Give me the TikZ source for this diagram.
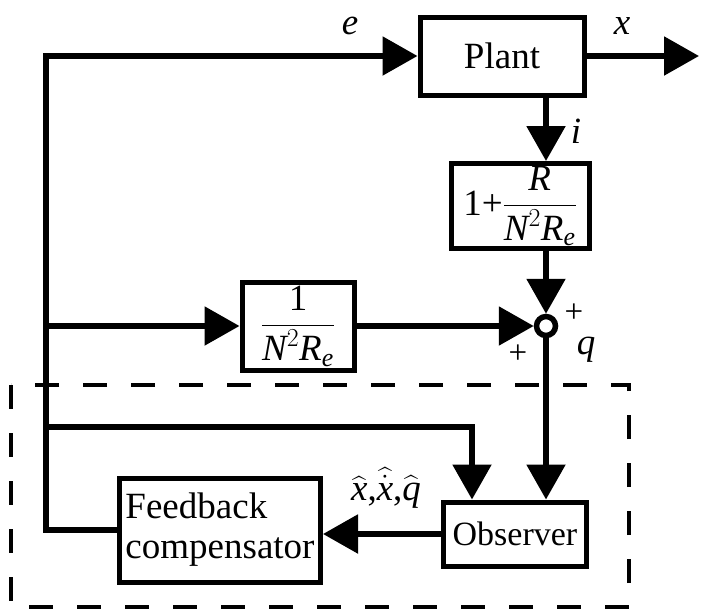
\RequirePackage{fix-cm}
\documentclass[tikz,border=0pt]{standalone}
\usepackage{amsmath}
\usepackage{fontspec}
\setmainfont{Liberation Serif}
\usepackage{tikz}
\usetikzlibrary{arrows.meta, positioning, calc}
\newcommand{\vi}[1]{\textit{#1}}
\tikzset{
  blk/.style={rectangle, draw, line width=5pt, align=center, inner sep=2pt},
  sumnode/.style={circle, draw, line width=5.5pt, inner sep=0pt, minimum size=19pt},
  arr/.style={-{Triangle[length=35pt, width=38pt]}, line width=5.5pt},
  dashbox/.style={line width=3.5pt, dash pattern=on 24pt off 24pt},
  lbl/.style={inner sep=0pt},
  pluslbl/.style={inner sep=0pt, font=\fontsize{33}{35}\selectfont},
}
\begin{document}
\begin{tikzpicture}[x=1pt, y=-1pt, font=\fontsize{37}{40}\selectfont]
\useasboundingbox (0,0) rectangle (702,616);

% ── Blocks ──
\node[blk, minimum width=164pt, minimum height=78pt] (plant) at (502,56) {Plant};
\node[blk, minimum width=138pt, minimum height=85pt] (corr) at (520,206)
  {$\text{1+}\dfrac{\vi{R}}{\vi{N}^2\vi{R}_{\vi{e}}}$};
\node[blk, minimum width=112pt, minimum height=88pt] (gain) at (298,326)
  {$\dfrac{\text{1}}{\vi{N}^2\vi{R}_{\vi{e}}}$};
\node[sumnode] (sum) at (546,326) {};
\node[blk, minimum width=143pt, minimum height=64pt, font=\fontsize{34}{36}\selectfont] (obs) at (515,534) {Observer};
\node[blk, minimum width=201pt, minimum height=104pt, align=left, inner sep=1pt] (fb) at (220,530) {Feedback\\compensator};

% ── Corners ──
\coordinate (topl) at (46,56);
\coordinate (out) at (699,56);
\coordinate (obsin) at (472,427);

% ── Arrows ──
\draw[arr] (fb.west) -| (topl) -- (plant.west);
\draw[arr] (plant.east) -- (out);
\draw[arr] (plant.south -| sum) -- (corr.north -| sum);
\draw[arr] (corr.south -| sum) -- (sum.north);
\draw[arr] (gain.west -| topl) -- (gain.west);
\draw[arr] (gain.east) -- (sum.west);
\draw[arr] (sum.south) -- (obs.north -| sum);
\draw[arr] (obsin -| topl) -- (obsin) -- (obsin |- obs.north);
\draw[arr] (obs.west) -- (obs.west -| fb.east);

% ── Labels ──
\node[lbl] (elab) at (350,26) {\vi{e}};
\node[lbl] (xlab) at (622,26) {\vi{x}};
\node[lbl] (ilab) at (576,131) {\vi{i}};
\node[pluslbl] (plusa) at (574,313) {+};
\node[pluslbl] (plusb) at (518,354) {+};
\node[lbl] (qlab) at (586,350) {\vi{q}};
\node[lbl] (estlab) at (386,488) {$\widehat{\vi{x}}\text{,}\widehat{\dot{\vi{x}}}\text{,}\widehat{\vi{q}}$};

% ── Observer region ──
\draw[dashbox] (11,385) rectangle (629,607);

\end{tikzpicture}
\end{document}
